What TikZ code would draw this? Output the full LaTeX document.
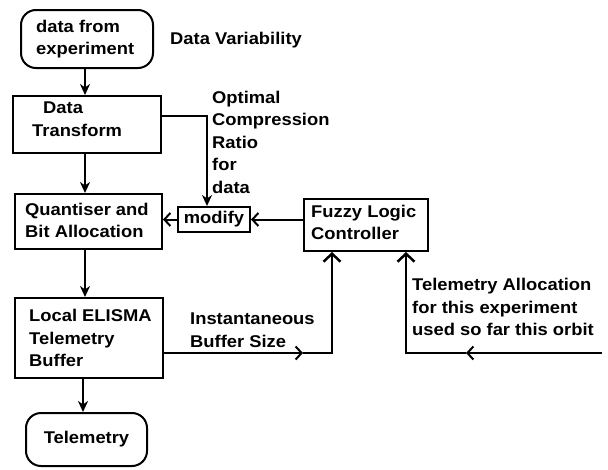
\documentclass[tikz,border=0pt]{standalone}
\usepackage{fontspec}
\setmainfont{Liberation Sans}[FakeStretch=1.08]
\usetikzlibrary{arrows.meta}
\begin{document}
\begin{tikzpicture}[x=1pt,y=-1pt,
 box/.style={draw,line width=2pt,inner sep=0pt,rectangle},
 term/.style={box,rounded corners=15pt},
 txt/.style={anchor=west,align=left,inner sep=0pt,font=\bfseries\fontsize{17}{22.5}\selectfont},
 wire/.style={line width=2pt},
 down/.style={wire,-{Stealth[length=11pt,width=10pt,inset=3.5pt]}},
 openl/.style={wire,-{Straight Barb[length=6pt,width=13pt,line width=2pt]}},
 upa/.style={wire,-{Straight Barb[length=8pt,width=17pt,line width=2.5pt]}},
 ]
\useasboundingbox (0,0) rectangle (608,469);
% boxes
\node[term,minimum width=132pt,minimum height=58pt] (top) at (87,39) {};
\node[box,minimum width=148pt,minimum height=57pt] (dt) at (87,124.5) {};
\node[box,minimum width=147pt,minimum height=55pt] (qb) at (88.5,221.5) {};
\node[box,minimum width=72pt,minimum height=25pt,font=\bfseries\fontsize{17}{22.5}\selectfont] (mod) at (214,219.5) {modify};
\node[box,minimum width=124pt,minimum height=52pt] (flc) at (366,225) {};
\node[box,minimum width=148pt,minimum height=80pt] (leb) at (89,338) {};
\node[term,minimum width=121pt,minimum height=53pt,font=\bfseries\fontsize{17}{22.5}\selectfont] (tel) at (86.5,439.5) {Telemetry};
% texts
\node[txt] (t1) at (36,39) {data from\\experiment};
\node[txt] (t2) at (170,40) {Data Variability};
\node[txt] (t3) at (32,119) {\hspace*{11pt}Data\\Transform};
\node[txt] (t4) at (212,142) {Optimal\\Compression\\Ratio\\for\\data};
\node[txt] (t5) at (25,220.5) {Quantiser and\\Bit Allocation};
\node[txt] (t6) at (311,222.5) {Fuzzy Logic\\Controller};
\node[txt] (t7) at (29,338) {Local ELISMA\\Telemetry\\Buffer};
\node[txt] (t8) at (190,330) {Instantaneous\\Buffer Size};
\node[txt] (t9) at (412,307) {Telemetry Allocation\\for this experiment\\used so far this orbit};
% connectors
\draw[down] ([xshift=-2pt]top.south) -- ([xshift=-2pt]top.south |- dt.north);
\draw[down] ([xshift=-2pt]dt.south) -- ([xshift=-2pt]dt.south |- qb.north);
\draw[down] ([xshift=-3.5pt]qb.south) -- ([xshift=-3.5pt]qb.south |- leb.north);
\draw[down] ([xshift=-6pt]leb.south) -- ([xshift=-6pt]leb.south |- tel.north);
\coordinate (ot) at (207,116);
\draw[down] (dt.east |- ot) -- (ot) -- (mod.north -| ot);
\draw[openl] (mod.west) -- (qb.east |- mod.west);
\draw[openl] (flc.west |- mod.east) -- (mod.east);
\coordinate (ib) at (332,353);
\coordinate (ibm) at (303,353);
\draw[openl] (leb.east |- ib) -- (ibm);
\draw[upa] (ibm) -- (ib) -- (flc.south -| ib);
\coordinate (tin) at (602,353);
\coordinate (tm) at (466,353);
\coordinate (tc) at (406,353);
\draw[openl] (tin) -- (tm);
\draw[upa] (tm) -- (tc) -- (flc.south -| tc);
\end{tikzpicture}
\end{document}
